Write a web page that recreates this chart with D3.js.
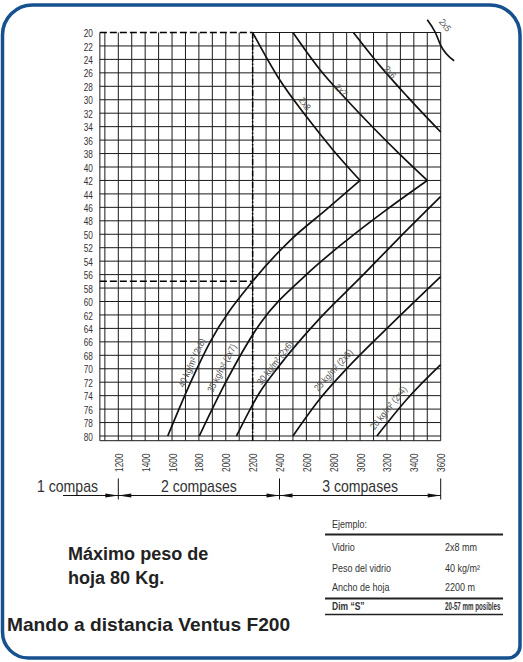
<!DOCTYPE html>
<html><head><meta charset="utf-8">
<script src="https://cdn.jsdelivr.net/npm/d3@7"></script>
<style>
html,body{margin:0;padding:0;background:#fff;}
svg{display:block;}
text{font-family:"Liberation Sans",Arial,Helvetica,sans-serif;}
</style></head><body>
<svg id="chart" width="523" height="662"></svg>
<script>
// Leaf width (mm) on the horizontal axis, dimension "S" (mm) on the vertical axis
const widthTicks = d3.range(1200, 3601, 200);
const gridWidths = d3.range(1100, 3601, 100);
const dimTicks = d3.range(20, 81, 2);

// Upper limit curves by glass build-up
const upperNames = ["2x8", "2x7", "2x6", "2x5"];
const upper2x8 = [[2200, 20], [2400, 27], [2600, 32.5], [2800, 37.5], [3000, 42]];
const upper2x7 = [[2500, 20], [2700, 25.5], [2900, 30], [3100, 34.2], [3300, 38.2], [3500, 42]];
const upper2x6 = [[2950, 20], [3150, 25], [3350, 29.5], [3600, 34.8]];
const upper2x5 = [[3500, 18.1], [3560, 20], [3600, 21.9], [3700, 24.2]];
const upperLabelPos = [[2590, 30.6], [2858, 28.6], [3223, 25.9], [3633, 18.9]];

// Leaf weight curves
const lowerNames = ["40 kg/m² (2x8)", "35 kg/m² (2x7)", "30 kg/m² (2x6)", "25 kg/m² (2x5)", "20 kg/m² (2x4)"];
const lower40 = [[1568, 80], [1750, 71.5], [1884, 66], [2200, 57], [2480, 50.9], [2750, 46.3], [3000, 42]];
const lower35 = [[1803, 80], [2000, 72], [2255, 63.3], [2600, 56], [2900, 50.9], [3200, 46.3], [3500, 42]];
const lower30 = [[2080, 80], [2250, 73.6], [2400, 69.5], [2700, 62.5], [3000, 56.5], [3273, 50.9], [3600, 44.4]];
const lower25 = [[2500, 80], [2700, 74.5], [2900, 70], [3200, 64], [3600, 56.3]];
const lower20 = [[3125, 80], [3350, 74.5], [3600, 69.4]];
const lowerLabelPos = [[1747, 69.1], [1970, 69.9], [2367, 69.1], [2801, 70.2], [3210, 75.8]];

// Worked example
const exampleWidth = 2200;
const exampleDimMin = 20;
const exampleDimMax = 57;
const exampleFields = ["Vidrio", "Peso del vidrio", "Ancho de hoja"];
const exampleValues = ["2x8 mm", "40 kg/m²", "2200 m"];

// Number of compases by leaf width
const compasLabels = ["1 compas", "2 compases", "3 compases"];
const compasBreaks = [1200, 2400, 3600];

const svg = d3.select("#chart");

// condensed text: Liberation Sans squeezed horizontally
function label(parent, px, py, str, o = {}) {
  const t = parent.append("text")
    .attr("transform", `translate(${px},${py}) rotate(${o.rotate || 0}) scale(${o.sx || 1},1)`)
    .attr("font-size", o.size || 10)
    .attr("fill", o.fill || "#333")
    .attr("text-anchor", o.anchor || "start")
    .text(str);
  if (o.weight) t.attr("font-weight", o.weight);
  if (o.dy) t.attr("dy", o.dy);
  return t;
}

// Rounded blue frame
(function frame() {
  const l = 2.5, t = 5, r = 520, b = 658, rTL = 30, rTR = 30, rBL = 26, rBR = 12;
  const p = d3.path();
  p.moveTo(l + rTL, t);
  p.lineTo(r - rTR, t);
  p.arcTo(r, t, r, t + rTR, rTR);
  p.lineTo(r, b - rBR);
  p.arcTo(r, b, r - rBR, b, rBR);
  p.lineTo(l + rBL, b);
  p.arcTo(l, b, l, b - rBL, rBL);
  p.lineTo(l, t + rTL);
  p.arcTo(l, t, l + rTL, t, rTL);
  p.closePath();
  svg.append("path").attr("d", p.toString())
    .attr("fill", "none").attr("stroke", "#15508f").attr("stroke-width", 3.5);
})();

const x = d3.scaleLinear().domain([1200, 3600]).range([118.3, 440.7]);
const y = d3.scaleLinear().domain([20, 80]).range([32.5, 436]);

const leftEdge = x(1100) - 5;
const bottomEdge = y(80) + 4.7;

const grid = svg.append("g").attr("stroke", "#1a1a1a").attr("stroke-width", 1);
grid.selectAll("line.v").data(gridWidths).join("line")
  .attr("x1", d => x(d)).attr("x2", d => x(d))
  .attr("y1", y(20)).attr("y2", bottomEdge);
grid.selectAll("line.h").data(dimTicks.slice(1)).join("line")
  .attr("x1", leftEdge).attr("x2", x(3600))
  .attr("y1", d => y(d)).attr("y2", d => y(d));
grid.append("line").attr("x1", x(exampleWidth)).attr("x2", x(3600)).attr("y1", y(20)).attr("y2", y(20));
grid.append("line").attr("x1", leftEdge).attr("x2", leftEdge).attr("y1", y(20)).attr("y2", bottomEdge);
grid.append("line").attr("x1", leftEdge).attr("x2", x(3600)).attr("y1", bottomEdge).attr("y2", bottomEdge);

// example guides
const guides = svg.append("g").attr("stroke", "#000").attr("stroke-width", 1.5).attr("fill", "none");
guides.append("line").attr("x1", leftEdge).attr("x2", x(exampleWidth))
  .attr("y1", y(exampleDimMin)).attr("y2", y(exampleDimMin)).attr("stroke-dasharray", "7,3");
guides.append("line").attr("x1", leftEdge).attr("x2", x(exampleWidth))
  .attr("y1", y(exampleDimMax)).attr("y2", y(exampleDimMax)).attr("stroke-dasharray", "7,3");
guides.append("line").attr("x1", x(exampleWidth)).attr("x2", x(exampleWidth))
  .attr("y1", y(exampleDimMin)).attr("y2", bottomEdge).attr("stroke-dasharray", "6,2,1.5,2");

// axis labels
const gy = svg.append("g").attr("transform", `translate(${leftEdge},0)`)
  .call(d3.axisLeft(y).tickValues(dimTicks).tickSize(0));
gy.select(".domain").remove();
gy.selectAll("text").attr("x", null).attr("dy", "0.36em")
  .attr("font-size", 11.5).attr("fill", "#333").attr("font-family", "Liberation Sans")
  .attr("transform", "translate(-7,0) scale(0.72,1)");

const gx = svg.append("g").attr("transform", `translate(0,${bottomEdge})`)
  .call(d3.axisBottom(x).tickValues(widthTicks).tickSize(0).tickFormat(d3.format("d")));
gx.select(".domain").remove();
gx.selectAll("text").attr("y", null).attr("dy", "0.36em")
  .attr("font-size", 11.2).attr("fill", "#333").attr("font-family", "Liberation Sans")
  .attr("text-anchor", "middle")
  .attr("transform", "translate(0,22) rotate(-90) scale(0.74,1)");

// curves
const line = d3.line().x(d => x(d[0])).y(d => y(d[1])).curve(d3.curveMonotoneX);
const curves = svg.append("g").attr("fill", "none").attr("stroke", "#111").attr("stroke-width", 1.7);
const labels = svg.append("g");

// draws a curve and its label, turned along the curve's local direction
function drawCurve(data, name, pos) {
  const node = curves.append("path").attr("d", line(data)).node();
  const L = node.getTotalLength();
  const px = x(pos[0]);
  let lo = 0, hi = L;
  for (let i = 0; i < 40; i++) {
    const mid = (lo + hi) / 2;
    if (node.getPointAtLength(mid).x < px) lo = mid; else hi = mid;
  }
  const p0 = node.getPointAtLength(Math.max(0, lo - 5));
  const p1 = node.getPointAtLength(Math.min(L, lo + 5));
  const ang = Math.atan2(p1.y - p0.y, p1.x - p0.x) * 180 / Math.PI;
  label(labels, x(pos[0]), y(pos[1]), name,
    { rotate: ang, sx: 0.86, size: 9.5, anchor: "middle", dy: "0.35em", fill: "#505050" });
}

[upper2x8, upper2x7, upper2x6, upper2x5].forEach((d, i) => drawCurve(d, upperNames[i], upperLabelPos[i]));
[lower40, lower35, lower30, lower25, lower20].forEach((d, i) => drawCurve(d, lowerNames[i], lowerLabelPos[i]));

// compases dimension line
const dimY = 495.5;
const dim = svg.append("g");
dim.append("line").attr("x1", 63).attr("x2", x(compasBreaks[2]))
  .attr("y1", dimY).attr("y2", dimY).attr("stroke", "#111").attr("stroke-width", 1);
dim.selectAll("line.tick").data(compasBreaks).join("line")
  .attr("x1", d => x(d)).attr("x2", d => x(d))
  .attr("y1", dimY - 17).attr("y2", dimY + 4).attr("stroke", "#111").attr("stroke-width", 1);
function arrow(tipX, dir) {
  const len = 13, hw = 2;
  dim.append("path")
    .attr("d", `M${tipX},${dimY}L${tipX - dir * len},${dimY - hw}L${tipX - dir * len},${dimY + hw}Z`)
    .attr("fill", "#111");
}
arrow(x(compasBreaks[0]), 1);
arrow(x(compasBreaks[0]), -1);
arrow(x(compasBreaks[1]), 1);
arrow(x(compasBreaks[1]), -1);
arrow(x(compasBreaks[2]), 1);

const cOpt = { size: 16, sx: 0.88, fill: "#333" };
label(svg, 37, 492, compasLabels[0], cOpt);
label(svg, (x(compasBreaks[0]) + x(compasBreaks[1])) / 2, 492, compasLabels[1], { ...cOpt, anchor: "middle" });
label(svg, (x(compasBreaks[1]) + x(compasBreaks[2])) / 2, 492, compasLabels[2], { ...cOpt, anchor: "middle" });

// notes
const nOpt = { size: 18.6, sx: 0.97, weight: "bold", fill: "#222" };
label(svg, 68, 560, "Máximo peso de", nOpt);
label(svg, 68, 584, "hoja 80 Kg.", nOpt);
label(svg, 7, 631, "Mando a distancia Ventus F200", { ...nOpt, sx: 1.03 });

// example table
const tbl = svg.append("g");
const col1 = 332, col2 = 445, tL = 325, tR = 503;
const tOpt = { size: 10, sx: 0.9, fill: "#333" };
label(tbl, col1, 528, "Ejemplo:", tOpt);
tbl.append("line").attr("x1", tL).attr("x2", tR).attr("y1", 534.5).attr("y2", 534.5).attr("stroke", "#222").attr("stroke-width", 2);
const rowY = [550.5, 571.5, 591];
exampleFields.forEach((f, i) => {
  label(tbl, col1, rowY[i], f, tOpt);
  label(tbl, col2, rowY[i], exampleValues[i], tOpt);
});
tbl.append("line").attr("x1", tL).attr("x2", tR).attr("y1", 598.5).attr("y2", 598.5).attr("stroke", "#222").attr("stroke-width", 2);
label(tbl, col1, 610, "Dim “S”", { ...tOpt, weight: "bold", sx: 0.85 });
label(tbl, col2, 610, `${exampleDimMin}-${exampleDimMax} mm posibles`, { ...tOpt, weight: "bold", sx: 0.62 });
tbl.append("line").attr("x1", tL).attr("x2", tR).attr("y1", 614.5).attr("y2", 614.5).attr("stroke", "#222").attr("stroke-width", 1.5);
</script>
</body></html>
